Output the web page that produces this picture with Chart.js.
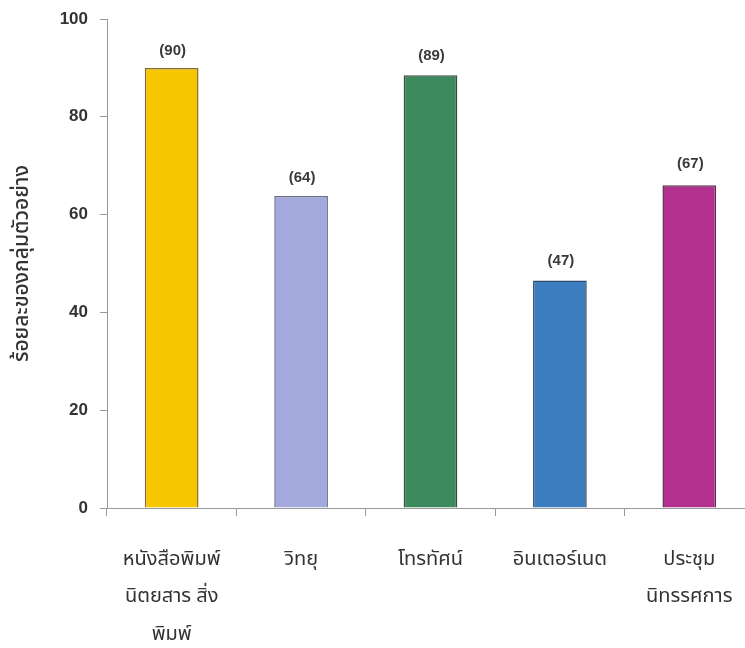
<!DOCTYPE html>
<html>
<head>
<meta charset="utf-8">
<script src="https://cdn.jsdelivr.net/npm/chart.js@4/dist/chart.umd.min.js"></script>
<style>
    html, body { margin: 0; padding: 0; background: #fff; overflow: hidden; }
    #wrap { width: 760px; height: 648px; }
</style>
</head>
<body>
<div id="wrap"><canvas id="media-chart" width="760" height="648"></canvas></div>
<script>
const categories = [
    ["หนังสือพิมพ์", "นิตยสาร สิ่ง", "พิมพ์"],
    "วิทยุ",
    "โทรทัศน์",
    "อินเตอร์เนต",
    ["ประชุม", "นิทรรศการ"]
];
const barValues = [90, 63.8, 88.5, 46.5, 66];
const printedValues = [90, 64, 89, 47, 67];
const yTicks = [0, 20, 40, 60, 80, 100];
const yTitle = "ร้อยละของกลุ่มตัวอย่าง";

const fillColors = ["#f8c600", "#a3a9dd", "#3d8a5e", "#3b7dbe", "#b3318e"];
const edgeColors = ["#8c6a34", "#6c6c8c", "#3a4c3e", "#2e4a68", "#5c3052"];

const thaiFont = "'Noto Sans Thai', 'Noto Sans', 'DejaVu Sans', sans-serif";

// (xx) labels sit above the printed value, not the bar top
const valueLabelPlugin = {
    id: "valueLabels",
    afterDatasetsDraw(chart) {
        const ctx = chart.ctx;
        const meta = chart.getDatasetMeta(0);
        const yScale = chart.scales.y;
        ctx.save();
        ctx.font = "bold 15px 'Liberation Sans', Arial, sans-serif";
        ctx.fillStyle = "#3a3a3a";
        ctx.textAlign = "center";
        ctx.textBaseline = "middle";
        meta.data.forEach((bar, i) => {
            const v = printedValues[i];
            ctx.fillText(`(${v})`, bar.x + 1, yScale.getPixelForValue(v) - 17);
        });
        ctx.restore();
    }
};

const chart = new Chart(document.querySelector("#media-chart"), {
    type: "bar",
    data: {
        labels: categories,
        datasets: [{
            data: barValues,
            backgroundColor: fillColors,
            borderColor: edgeColors,
            borderWidth: 1.5,
            categoryPercentage: 1,
            barPercentage: 0.415
        }]
    },
    options: {
        responsive: false,
        animation: false,
        devicePixelRatio: 1,
        layout: { padding: { top: 19, right: 6 } },
        plugins: {
            legend: { display: false },
            tooltip: { enabled: false }
        },
        scales: {
            x: {
                afterFit: (scale) => { scale.height = 140; },
                grid: {
                    offset: true,
                    drawOnChartArea: false,
                    tickLength: 8,
                    color: "#9a9a9a"
                },
                border: { color: "#9a9a9a" },
                ticks: {
                    maxRotation: 0,
                    autoSkip: false,
                    padding: 26,
                    color: "#333",
                    font: { family: thaiFont, size: 20, lineHeight: 1.875 }
                }
            },
            y: {
                min: 0,
                max: 100,
                afterFit: (scale) => {
                    scale.width = 107;
                    scale.paddingTop = 0;
                    scale.paddingBottom = 0;
                },
                afterBuildTicks: (scale) => {
                    scale.ticks = yTicks.map((v) => ({ value: v }));
                },
                grid: {
                    drawOnChartArea: false,
                    tickLength: 7,
                    color: "#9a9a9a"
                },
                border: { color: "#9a9a9a" },
                ticks: {
                    padding: 12,
                    color: "#333",
                    font: { family: "'Liberation Sans', Arial, sans-serif", size: 17, weight: "bold" }
                },
                title: {
                    display: true,
                    text: yTitle,
                    color: "#333",
                    padding: { top: 11, bottom: 0 },
                    font: { family: thaiFont, size: 21, weight: "500" }
                }
            }
        }
    },
    plugins: [valueLabelPlugin]
});
</script>
</body>
</html>
